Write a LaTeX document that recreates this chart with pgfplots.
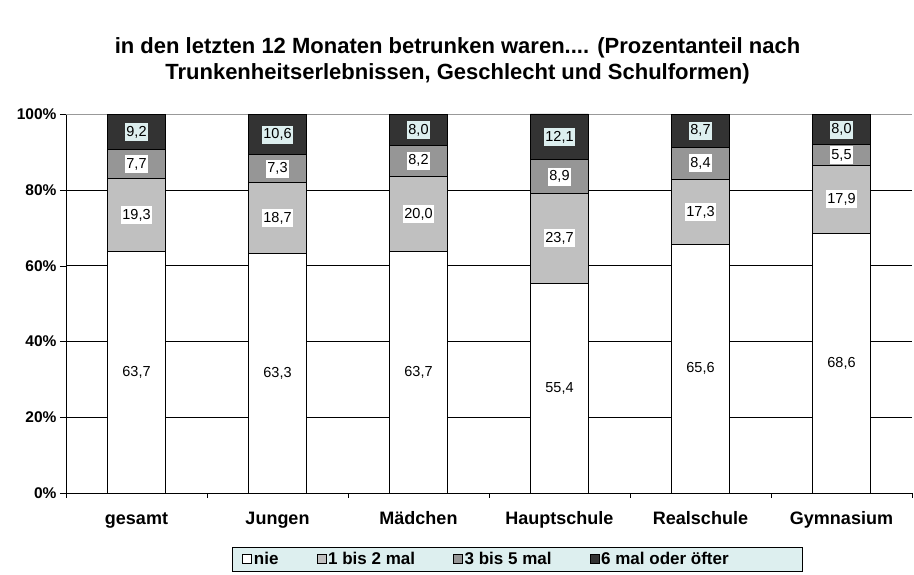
\documentclass[border=0pt]{standalone}
\usepackage{fontspec}
\setmainfont{Liberation Sans}
\usepackage{pgfplots}
\pgfplotsset{compat=1.18}

\definecolor{seg1}{RGB}{192,192,192}
\definecolor{seg2}{RGB}{150,150,150}
\definecolor{seg3}{RGB}{51,51,51}
\definecolor{lblcyan}{RGB}{221,239,239}

\begin{document}
\begin{tikzpicture}
\begin{axis}[
    ybar stacked,
    scale only axis,
    width=846pt, height=379pt,
    bar width=58pt,
    xmin=-0.5, xmax=5.5,
    ymin=0, ymax=100.1,
    axis x line*=bottom,
    axis y line*=left,
    xtick={0,...,5},
    xticklabels={gesamt,Jungen,Mädchen,Hauptschule,Realschule,Gymnasium},
    minor xtick={-0.5,0.5,1.5,2.5,3.5,4.5,5.5},
    major x tick style={draw=none},
    minor x tick style={black},
    tick align=outside,
    minor tick length=5pt,
    major tick length=6pt,
    ytick={0,20,...,80},
    extra y ticks={100},
    extra y tick style={grid style={gray!80, line width=0.9pt}},
    yticklabel={\pgfmathprintnumber{\tick}\%},
    /pgf/number format/assume math mode=true,
    yticklabel style={font=\fontsize{15.5}{17}\selectfont\bfseries},
    xticklabel style={font=\fontsize{18}{20}\selectfont\bfseries, text height=13pt, text depth=4pt, yshift=-9pt},
    ymajorgrids,
    grid style={black, line width=0.7pt},
    axis line style={black, line width=0.8pt},
    y tick style={black},
    title={in den letzten 12 Monaten betrunken waren.... (Prozentanteil nach\\Trunkenheitserlebnissen, Geschlecht und Schulformen)},
    title style={font=\fontsize{22}{26}\selectfont\bfseries, align=center, at={(0.4628,1)}, anchor=south, yshift=20pt},
    nodes near coords,
    point meta=rawy,
    nodes near coords={\pgfmathprintnumber[fixed,fixed zerofill,precision=1,use comma]{\pgfplotspointmeta}},
    every node near coord/.append style={font=\fontsize{14.5}{16}\selectfont, anchor=center, fill=white, inner xsep=1.5pt, inner ysep=3pt},
    legend columns=4,
    legend style={at={(0.1962,-0.142)}, anchor=north west, fill=lblcyan, draw=black, line width=0.8pt, font=\fontsize{17}{19}\selectfont\bfseries, /tikz/every even column/.append style={column sep=36pt}, inner ysep=3pt, inner xsep=10pt},
    legend image code/.code={\draw[#1, draw=black, line width=0.6pt] (0pt,-4.5pt) rectangle (9pt,4.5pt);},
]
\addplot[fill=white, draw=black, line width=0.8pt] coordinates {(0,63.7) (1,63.3) (2,63.7) (3,55.4) (4,65.6) (5,68.6)};
\addplot[fill=seg1, draw=black, line width=0.8pt] coordinates {(0,19.3) (1,18.7) (2,20.0) (3,23.7) (4,17.3) (5,17.9)};
\addplot[fill=seg2, draw=black, line width=0.8pt] coordinates {(0,7.7) (1,7.3) (2,8.2) (3,8.9) (4,8.4) (5,5.5)};
\addplot[fill=seg3, draw=black, line width=0.8pt, every node near coord/.append style={fill=lblcyan}] coordinates {(0,9.2) (1,10.6) (2,8.0) (3,12.1) (4,8.7) (5,8.0)};
\legend{nie,1 bis 2 mal,3 bis 5 mal,6 mal oder öfter\hspace*{62pt}}
\end{axis}
\pgfresetboundingbox
\path[use as bounding box] (-66pt,-82pt) rectangle (848pt,493pt);
\end{tikzpicture}
\end{document}
